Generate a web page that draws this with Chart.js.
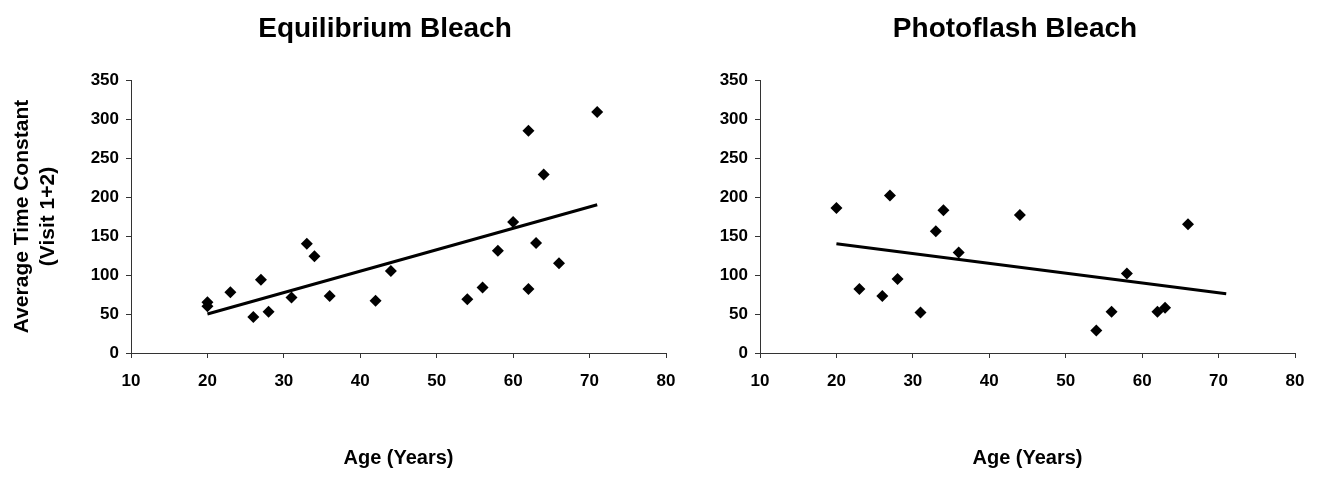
<!DOCTYPE html>
<html>
<head>
<meta charset="utf-8">
<script src="https://cdn.jsdelivr.net/npm/chart.js@4.4.1/dist/chart.umd.min.js"></script>
<style>
  html, body { margin: 0; padding: 0; background: #fff; }
  #wrap { position: relative; width: 1325px; height: 484px; overflow: hidden; }
  canvas { position: absolute; top: 0; }
</style>
</head>
<body>
<div id="wrap">
  <canvas id="equil" width="770" height="484" style="left:0"></canvas>
  <canvas id="photo" width="620" height="484" style="left:705px"></canvas>
</div>
<script>
// Equilibrium bleach: age vs average time constant
const equilAges = [20, 20, 23, 26, 27, 28, 31, 33, 34, 36, 42, 44, 54, 56, 58, 60, 62, 62, 63, 64, 66, 71];
const equilValues = [65, 60, 78, 46, 94, 53, 71, 140, 124, 73, 67, 105, 69, 84, 131, 168, 285, 82, 141, 229, 115, 309];
const equilTrendAges = [20, 71];
const equilTrendValues = [50, 190];

// Photoflash bleach
const photoAges = [20, 23, 26, 27, 28, 31, 33, 34, 36, 44, 54, 56, 58, 62, 63, 66];
const photoValues = [186, 82, 73, 202, 95, 52, 156, 183, 129, 177, 29, 53, 102, 53, 58, 165];
const photoTrendAges = [20, 71];
const photoTrendValues = [140, 76];

const xRange = [10, 80];
const yRange = [0, 350];
const xStep = 10;
const yStep = 50;

const FONT = "Arial, 'Liberation Sans', sans-serif";

function toPoints(xs, ys) {
  return xs.map((x, i) => ({ x: x, y: ys[i] }));
}

function makeChart(id, title, ages, values, trendAges, trendValues, yTitle, yWidth, rightWidth) {
  const ctx = document.getElementById(id).getContext("2d");
  return new Chart(ctx, {
    type: "scatter",
    data: {
      datasets: [
        {
          data: toPoints(ages, values),
          pointStyle: "rectRot",
          pointRadius: 6,
          backgroundColor: "#000",
          borderColor: "#000",
          borderWidth: 0,
        },
        {
          type: "line",
          data: toPoints(trendAges, trendValues),
          showLine: true,
          pointRadius: 0,
          borderColor: "#000",
          borderWidth: 3,
          fill: false,
        },
      ],
    },
    options: {
      responsive: false,
      animation: false,
      layout: { padding: 0 },
      plugins: {
        legend: { display: false },
        tooltip: { enabled: false },
        title: {
          display: true,
          text: title,
          color: "#000",
          font: { family: FONT, size: 28, weight: "bold" },
          padding: { top: 12, bottom: 34.4 },
        },
      },
      scales: {
        x: {
          type: "linear",
          min: xRange[0],
          max: xRange[1],
          afterFit: (s) => { s.height = 131; },
          ticks: {
            stepSize: xStep,
            color: "#000",
            padding: 13,
            font: { family: FONT, size: 17, weight: "bold" },
          },
          grid: { drawOnChartArea: false, drawTicks: true, tickLength: 5, tickColor: "#333" },
          border: { display: true, color: "#333", width: 1 },
          title: {
            display: true,
            text: "Age (Years)",
            color: "#000",
            font: { family: FONT, size: 20, weight: "bold" },
            padding: { top: 0, bottom: 14 },
          },
        },
        y: {
          type: "linear",
          min: yRange[0],
          max: yRange[1],
          afterFit: (s) => { s.width = yWidth; },
          ticks: {
            stepSize: yStep,
            color: "#000",
            padding: 7,
            font: { family: FONT, size: 17, weight: "bold" },
          },
          grid: { drawOnChartArea: false, drawTicks: true, tickLength: 5, tickColor: "#333" },
          border: { display: true, color: "#333", width: 1 },
          title: {
            display: !!yTitle,
            text: yTitle || "",
            color: "#000",
            font: { family: FONT, size: 21, weight: "bold", lineHeight: 1.25 },
            padding: { top: 9, bottom: 0 },
          },
        },
        // empty right-hand spacer so the title centres like the original
        spacer: {
          type: "linear",
          position: "right",
          min: yRange[0],
          max: yRange[1],
          afterFit: (s) => { s.width = rightWidth; },
          ticks: { display: false },
          grid: { display: false },
          border: { display: false },
        },
      },
    },
  });
}

makeChart("equil", "Equilibrium Bleach", equilAges, equilValues, equilTrendAges, equilTrendValues,
  ["Average Time Constant", "(Visit 1+2)"], 131, 104);
makeChart("photo", "Photoflash Bleach", photoAges, photoValues, photoTrendAges, photoTrendValues,
  null, 55, 30);
</script>
</body>
</html>
